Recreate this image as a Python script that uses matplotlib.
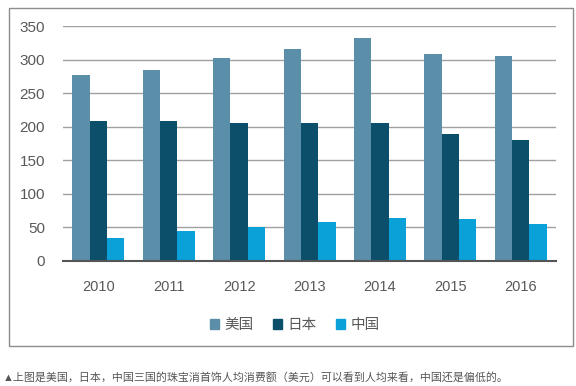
import numpy as np
import matplotlib.pyplot as plt
from matplotlib.patches import Rectangle, Patch

plt.rcParams['font.family'] = ['Liberation Sans', 'Noto Sans CJK SC', 'DejaVu Sans']

years = ['2010', '2011', '2012', '2013', '2014', '2015', '2016']
usa = [277, 285, 303, 315, 332, 309, 306]
japan = [208, 208, 206, 205, 205, 189, 180]
china = [34, 44, 50, 57, 63, 62, 55]
series_names = ['美国', '日本', '中国']
colors = ['#5b8ea8', '#0c4f6b', '#0aa0d8']
caption = '▲上图是美国，日本，中国三国的珠宝消首饰人均消费额（美元）可以看到人均来看，中国还是偏低的。'

fig = plt.figure(figsize=(5.76, 3.86), dpi=100)
ax = fig.add_axes([0.1094, 0.3246, 0.8559, 0.608])

# outer frame
fig.patches.append(Rectangle((0.0156, 0.1036), 0.979, 0.8756, transform=fig.transFigure,
                             fill=False, edgecolor='#8c8c8c', linewidth=1.0))

x = np.arange(len(years))
w = 0.246
for i, (vals, c) in enumerate(zip([usa, japan, china], colors)):
    ax.bar(x + (i - 1) * w, vals, width=w, color=c, zorder=3)

ax.set_xlim(-0.5, len(years) - 0.5)
ax.set_ylim(0, 350)
ax.set_yticks(range(0, 351, 50))
ax.set_xticks(x)
ax.set_xticklabels(years)
ax.grid(axis='y', color='#a0a0a0', linewidth=1.0, zorder=0)
for s in ['top', 'right', 'left']:
    ax.spines[s].set_visible(False)
ax.spines['bottom'].set_color('#555555')
ax.spines['bottom'].set_linewidth(1.5)
ax.spines['bottom'].set_zorder(4)
ax.tick_params(axis='both', length=0, colors='#595959')
ax.tick_params(axis='y', pad=13, labelsize=11)
ax.tick_params(axis='x', pad=14, labelsize=10.5)

handles = [Patch(color=c, label=n) for c, n in zip(colors, series_names)]
fig.legend(handles=handles, loc='center', bbox_to_anchor=(0.512, 0.158), ncol=3,
           frameon=False, fontsize=10.5, handlelength=0.6, handleheight=0.6,
           handletextpad=0.4, columnspacing=1.3, labelcolor='#595959')

fig.text(0.004, 0.023, caption, fontsize=7.9, color='#555555', ha='left', va='center')

fig.savefig('out.png', dpi=100)
